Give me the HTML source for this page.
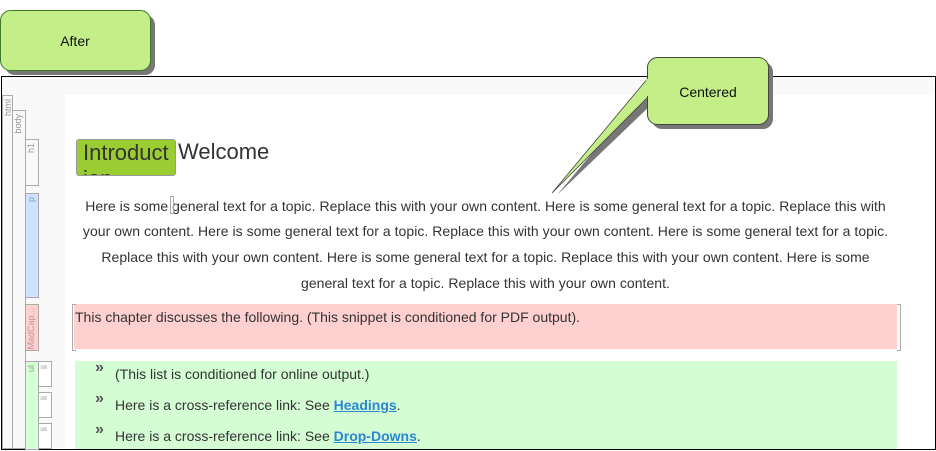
<!DOCTYPE html>
<html><head><meta charset="utf-8"><style>
body{margin:0;width:936px;height:451px;position:relative;overflow:hidden;background:#fff;font-family:"Liberation Sans",sans-serif;color:#333}
.a{position:absolute}
.tag{position:absolute;border:1px solid #aaa;box-sizing:border-box;font-size:9px;color:#999;}
.tag span{position:absolute;top:3px;left:0;width:11px;writing-mode:vertical-rl;transform:rotate(180deg);line-height:11px;white-space:nowrap;overflow:hidden}
.ln{position:absolute;left:74px;width:823px;text-align:center;font-size:14px;letter-spacing:0.04px;white-space:nowrap}
.li{position:absolute;left:115px;font-size:14px;white-space:nowrap}
.li b{color:#2b87d1;text-decoration:underline}
.bul{position:absolute;left:95px;font-size:16px;font-weight:bold;color:#555}
</style></head><body>
<div class="a" style="left:1px;top:76px;width:933px;height:372px;border:1px solid #000;background:#fff"></div>
<div class="a" style="left:2px;top:77px;width:932px;height:18px;background:#f9f9f9"></div>
<div class="a" style="left:2px;top:95px;width:63px;height:353px;background:#f9f9f9"></div>
<div class="tag" style="left:2px;top:95px;width:11px;height:354px"><span>html</span></div>
<div class="tag" style="left:12px;top:110px;width:14px;height:339px"><span>body</span></div>
<div class="tag" style="left:25px;top:139px;width:14px;height:47px"><span>h1</span></div>
<div class="tag" style="left:25px;top:193px;width:14px;height:105px;background:#cce4ff"><span>p</span></div>
<div class="tag" style="left:25px;top:304px;width:14px;height:47px;background:#ffd0d0;color:#b99"><span>MadCap...</span></div>
<div class="tag" style="left:25px;top:361px;width:14px;height:89px;background:#d6ffd6"><span>ul</span></div>
<div class="tag" style="left:38px;top:361px;width:14px;height:26px;background:#fff"><span>li</span></div>
<div class="tag" style="left:38px;top:392px;width:14px;height:26px;background:#fff"><span>li</span></div>
<div class="tag" style="left:38px;top:423px;width:14px;height:26px;background:#fff"><span>li</span></div>

<div class="a" style="left:76px;top:139px;width:100px;height:37px;background:#9acd32;border:1px solid #999;border-radius:3px;box-sizing:border-box;overflow:hidden;font-size:22px;line-height:26px;padding:0 0 0 6px;">Introduct ion</div>
<div class="a" style="left:178px;top:139px;font-size:22px;line-height:26px">Welcome</div>

<div class="ln" style="top:198px">Here is some general text for a topic. Replace this with your own content. Here is some general text for a topic. Replace this with</div>
<div class="ln" style="top:223px">your own content. Here is some general text for a topic. Replace this with your own content. Here is some general text for a topic.</div>
<div class="ln" style="top:249px">Replace this with your own content. Here is some general text for a topic. Replace this with your own content. Here is some</div>
<div class="ln" style="top:275px">general text for a topic. Replace this with your own content.</div>
<div class="a" style="left:170px;top:196px;width:2px;height:16px;border:1px solid #aaa"></div>

<div class="a" style="left:74px;top:304px;width:823px;height:45px;background:#ffd0d0"></div>
<div class="a" style="left:72px;top:304px;width:3px;height:45px;border:1px solid #aaa;border-right:none"></div>
<div class="a" style="left:897px;top:304px;width:3px;height:45px;border:1px solid #aaa;border-left:none"></div>
<div class="a" style="left:75px;top:309px;font-size:14px">This chapter discusses the following. (This snippet is conditioned for PDF output).</div>

<div class="a" style="left:75px;top:361px;width:822px;height:88px;background:#d4fdd4"></div>
<div class="bul" style="top:359px">»</div><div class="li" style="top:366px">(This list is conditioned for online output.)</div>
<div class="bul" style="top:390px">»</div><div class="li" style="top:397px">Here is a cross-reference link: See <b>Headings</b>.</div>
<div class="bul" style="top:421px">»</div><div class="li" style="top:428px">Here is a cross-reference link: See <b>Drop-Downs</b>.</div>

<svg class="a" style="left:0;top:0" width="936" height="451">
<polygon points="651,83 557,195 653,103" fill="#777"/>
<rect x="5" y="15" width="150" height="60" rx="10" fill="#777"/>
<rect x="652" y="62" width="121" height="67" rx="10" fill="#777"/>
<rect x="0.5" y="10.5" width="150" height="60" rx="10" fill="#c4ee87" stroke="#3f7a2a"/>
<polygon points="648,78 552,193 648,97" fill="#c4ee87" stroke="#444" stroke-width="0.8"/>
<rect x="647.5" y="57.5" width="121" height="67" rx="10" fill="#c4ee87" stroke="#444"/>
<rect x="646" y="79" width="4" height="17" fill="#c4ee87"/>
<text x="75" y="46" font-size="14" text-anchor="middle" font-family="Liberation Sans" fill="#111">After</text>
<text x="708" y="97" font-size="14" text-anchor="middle" font-family="Liberation Sans" fill="#111">Centered</text>
</svg>
</body></html>
